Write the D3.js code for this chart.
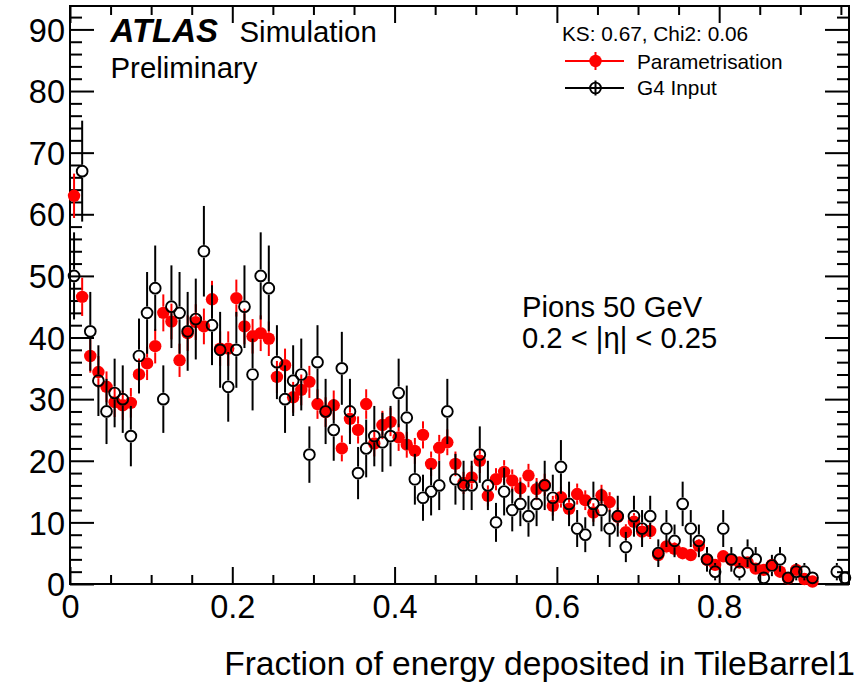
<!DOCTYPE html>
<html>
<head>
<meta charset="utf-8">
<script src="https://cdn.jsdelivr.net/npm/d3@7"></script>
<style>
  html, body { margin: 0; padding: 0; background: #fff; }
  svg text { font-family: "Liberation Sans", Arial, Helvetica, sans-serif; fill: #000; }
</style>
</head>
<body>
<svg id="chart" width="860" height="683"></svg>
<script>
// Histogram bin centres (bin width 0.01)
const binCenters = [
  0.005, 0.015, 0.025, 0.035, 0.045, 0.055, 0.065, 0.075, 0.085, 0.095,
  0.105, 0.115, 0.125, 0.135, 0.145, 0.155, 0.165, 0.175, 0.185, 0.195,
  0.205, 0.215, 0.225, 0.235, 0.245, 0.255, 0.265, 0.275, 0.285, 0.295,
  0.305, 0.315, 0.325, 0.335, 0.345, 0.355, 0.365, 0.375, 0.385, 0.395,
  0.405, 0.415, 0.425, 0.435, 0.445, 0.455, 0.465, 0.475, 0.485, 0.495,
  0.505, 0.515, 0.525, 0.535, 0.545, 0.555, 0.565, 0.575, 0.585, 0.595,
  0.605, 0.615, 0.625, 0.635, 0.645, 0.655, 0.665, 0.675, 0.685, 0.695,
  0.705, 0.715, 0.725, 0.735, 0.745, 0.755, 0.765, 0.775, 0.785, 0.795,
  0.805, 0.815, 0.825, 0.835, 0.845, 0.855, 0.865, 0.875, 0.885, 0.895,
  0.905, 0.915, 0.925, 0.935, 0.945, 0.955
];

// Parametrisation (filled red markers)
const paramValues = [
  63.0, 46.6, 37.0, 34.4, 32.0, 29.5, 29.0, 29.4, 34.0, 35.8,
  38.6, 44.0, 42.6, 36.3, 40.7, 42.5, 41.8, 46.2, 38.2, 38.2,
  46.4, 41.8, 40.2, 40.7, 39.8, 33.6, 35.5, 30.3, 31.5, 32.8,
  29.2, 27.9, 29.0, 22.0, 26.8, 25.0, 29.2, 22.8, 25.8, 26.3,
  23.8, 22.6, 21.6, 24.2, 19.5, 22.1, 23.0, 19.5, 16.4, 17.3,
  20.0, 14.3, 17.0, 18.2, 16.8, 15.5, 17.6, 15.4, 16.1, 12.7,
  14.1, 12.2, 14.6, 13.6, 11.6, 14.4, 13.3, 10.9, 8.4, 10.1,
  8.5, 8.6, 4.7, 6.1, 5.7, 5.0, 4.7, 6.2, 3.9, 3.1,
  4.5, 3.9, 3.5, 3.5, 2.5, 2.3, 3.1, 2.0, 0.9, 2.3,
  0.8, 0.4, 0, 0, 0, 0
];
const paramErrors = [
  3.6, 3.1, 2.7, 2.6, 2.5, 2.4, 2.4, 2.4, 2.6, 2.7,
  2.8, 3.0, 2.9, 2.7, 2.9, 2.9, 2.9, 3.0, 2.8, 2.8,
  3.0, 2.9, 2.8, 2.9, 2.8, 2.6, 2.7, 2.5, 2.5, 2.6,
  2.4, 2.4, 2.4, 2.1, 2.3, 2.2, 2.4, 2.1, 2.3, 2.3,
  2.2, 2.1, 2.1, 2.2, 2.0, 2.1, 2.1, 2.0, 1.8, 1.9,
  2.0, 1.7, 1.8, 1.9, 1.8, 1.8, 1.9, 1.8, 1.8, 1.6,
  1.7, 1.6, 1.7, 1.6, 1.5, 1.7, 1.6, 1.5, 1.3, 1.4,
  1.3, 1.3, 1.0, 1.1, 1.1, 1.0, 1.0, 1.1, 0.9, 0.8,
  0.9, 0.9, 0.8, 0.8, 0.7, 0.7, 0.8, 0.6, 0.4, 0.7,
  0.4, 0.3, 0, 0, 0, 0
];

// G4 Input (open black markers)
const g4Values = [
  50, 67, 41, 33, 28, 31, 30, 24, 37, 44,
  48, 30, 45, 44, 41, 43, 54, 42, 38, 32,
  38, 45, 34, 50, 48, 36, 30, 33, 34, 21,
  36, 28, 25, 35, 28, 18, 22, 24, 23, 24,
  31, 27, 17, 14, 15, 16, 28, 17, 16, 16,
  21, 16, 10, 15, 12, 13, 11, 13, 16, 14,
  19, 13, 9, 8, 13, 12, 9, 11, 6, 11,
  9, 11, 5, 9, 7, 13, 9, 7, 4, 2,
  9, 4, 2, 5, 4, 1, 3, 4, 1, 2,
  2, 1, 0, 0, 2, 1
];
const g4Errors = [
  7.07, 8.19, 6.40, 5.74, 5.29, 5.57, 5.48, 4.90, 6.08, 6.63,
  6.93, 5.48, 6.71, 6.63, 6.40, 6.56, 7.35, 6.48, 6.16, 5.66,
  6.16, 6.71, 5.83, 7.07, 6.93, 6.00, 5.48, 5.74, 5.83, 4.58,
  6.00, 5.29, 5.00, 5.92, 5.29, 4.24, 4.69, 4.90, 4.80, 4.90,
  5.57, 5.20, 4.12, 3.74, 3.87, 4.00, 5.29, 4.12, 4.00, 4.00,
  4.58, 4.00, 3.16, 3.87, 3.46, 3.61, 3.32, 3.61, 4.00, 3.74,
  4.36, 3.61, 3.00, 2.83, 3.61, 3.46, 3.00, 3.32, 2.45, 3.32,
  3.00, 3.32, 2.24, 3.00, 2.65, 3.61, 3.00, 2.65, 2.00, 1.41,
  3.00, 2.00, 1.41, 2.24, 2.00, 1.00, 1.73, 2.00, 1.00, 1.41,
  1.41, 1.00, 0, 0, 1.41, 1.00
];

const xTicksMajor = [0, 0.2, 0.4, 0.6, 0.8];
const xTicksMinor = [0.05, 0.1, 0.15, 0.25, 0.3, 0.35, 0.45, 0.5, 0.55, 0.65, 0.7, 0.75, 0.85, 0.9, 0.95];
const yTicksMajor = [0, 10, 20, 30, 40, 50, 60, 70, 80, 90];
const yTicksMinor = [2, 4, 6, 8, 12, 14, 16, 18, 22, 24, 26, 28, 32, 34, 36, 38, 42, 44, 46, 48,
                     52, 54, 56, 58, 62, 64, 66, 68, 72, 74, 76, 78, 82, 84, 86, 88, 92];
const xLabels = ["0", "0.2", "0.4", "0.6", "0.8"];
const yLabels = ["0", "10", "20", "30", "40", "50", "60", "70", "80", "90"];

const seriesNames = ["Parametrisation", "G4 Input"];
const statsText = "KS: 0.67, Chi2: 0.06";
const xTitle = "Fraction of energy deposited in TileBarrel1";
const infoLines = ["Pions 50 GeV", "0.2 < |\u03b7| < 0.25"];

// ---- layout ----
const frame = { left: 70, right: 849, top: 6, bottom: 584 };
const x = d3.scaleLinear().domain([0, 0.96]).range([frame.left, frame.right]);
const y = d3.scaleLinear().domain([0, 93.8]).range([frame.bottom, frame.top]);

const svg = d3.select("#chart");
const RED = "#ff0000";

// axes: inward ticks on all four sides
function styleAxis(g) {
  g.select(".domain").remove();
  g.selectAll(".tick line").attr("stroke", "#000").attr("stroke-width", 2);
}
const labelFont = 32.5;

// bottom
svg.append("g").attr("transform", `translate(0,${frame.bottom})`)
  .call(d3.axisBottom(x).tickValues(xTicksMajor).tickSizeInner(-17).tickSizeOuter(0)
    .tickPadding(11).tickFormat((d, i) => xLabels[i]))
  .call(styleAxis)
  .call(g => g.selectAll("text").attr("font-size", labelFont).attr("font-family", null));
svg.append("g").attr("transform", `translate(0,${frame.bottom})`)
  .call(d3.axisBottom(x).tickValues(xTicksMinor).tickSizeInner(-9).tickSizeOuter(0).tickFormat(""))
  .call(styleAxis);
// top
svg.append("g").attr("transform", `translate(0,${frame.top})`)
  .call(d3.axisTop(x).tickValues(xTicksMajor).tickSizeInner(-17).tickSizeOuter(0).tickFormat(""))
  .call(styleAxis);
svg.append("g").attr("transform", `translate(0,${frame.top})`)
  .call(d3.axisTop(x).tickValues(xTicksMinor).tickSizeInner(-9).tickSizeOuter(0).tickFormat(""))
  .call(styleAxis);
// left
svg.append("g").attr("transform", `translate(${frame.left},0)`)
  .call(d3.axisLeft(y).tickValues(yTicksMajor).tickSizeInner(-24).tickSizeOuter(0)
    .tickPadding(5).tickFormat((d, i) => yLabels[i]))
  .call(styleAxis)
  .call(g => g.selectAll("text").attr("font-size", labelFont).attr("font-family", null).attr("dy", "0.36em"));
svg.append("g").attr("transform", `translate(${frame.left},0)`)
  .call(d3.axisLeft(y).tickValues(yTicksMinor).tickSizeInner(-12).tickSizeOuter(0).tickFormat(""))
  .call(styleAxis);
// right
svg.append("g").attr("transform", `translate(${frame.right},0)`)
  .call(d3.axisRight(y).tickValues(yTicksMajor).tickSizeInner(-24).tickSizeOuter(0).tickFormat(""))
  .call(styleAxis);
svg.append("g").attr("transform", `translate(${frame.right},0)`)
  .call(d3.axisRight(y).tickValues(yTicksMinor).tickSizeInner(-12).tickSizeOuter(0).tickFormat(""))
  .call(styleAxis);

// frame
svg.append("rect")
  .attr("x", frame.left).attr("y", frame.top)
  .attr("width", frame.right - frame.left).attr("height", frame.bottom - frame.top)
  .attr("fill", "none").attr("stroke", "#000").attr("stroke-width", 2);

// ---- data points ----
function drawSeries(values, errors, opts) {
  const pts = binCenters.map((c, i) => ({ c, v: values[i], e: errors[i] })).filter(d => d.v > 0);
  const g = svg.append("g");
  const gap = opts.r + (opts.hollow ? 1 : 0);
  // upper error segment
  g.selectAll("line.up").data(pts.filter(d => y(d.v) - y(d.v + d.e) > gap)).join("line")
    .attr("x1", d => x(d.c)).attr("x2", d => x(d.c))
    .attr("y1", d => y(d.v + d.e)).attr("y2", d => y(d.v) - gap)
    .attr("stroke", opts.color).attr("stroke-width", 2);
  // lower error segment
  g.selectAll("line.dn").data(pts.filter(d => y(Math.max(0, d.v - d.e)) - y(d.v) > gap)).join("line")
    .attr("x1", d => x(d.c)).attr("x2", d => x(d.c))
    .attr("y1", d => y(d.v) + gap).attr("y2", d => y(Math.max(0, d.v - d.e)))
    .attr("stroke", opts.color).attr("stroke-width", 2);
  g.selectAll("circle").data(pts).join("circle")
    .attr("cx", d => x(d.c)).attr("cy", d => y(d.v)).attr("r", opts.r)
    .attr("fill", opts.hollow ? "none" : opts.color)
    .attr("stroke", opts.hollow ? opts.color : "none")
    .attr("stroke-width", opts.hollow ? 1.9 : 0);
}
drawSeries(paramValues, paramErrors, { color: RED, r: 6.2, hollow: false });
drawSeries(g4Values, g4Errors, { color: "#000", r: 5.4, hollow: true });

// ---- labels ----
svg.append("text").attr("x", 110.5).attr("y", 42.3)
  .attr("font-size", 33).attr("font-weight", "bold").attr("font-style", "italic").text("ATLAS");
svg.append("text").attr("x", 239.5).attr("y", 42.3).attr("font-size", 29.4).text("Simulation");
svg.append("text").attr("x", 110.5).attr("y", 78.3).attr("font-size", 29.4).text("Preliminary");

svg.append("text").attr("x", 562).attr("y", 41).attr("font-size", 20.8).text(statsText);

// legend
const legY = [61, 88];
// Parametrisation entry
svg.append("line").attr("x1", 565).attr("x2", 624).attr("y1", legY[0]).attr("y2", legY[0])
  .attr("stroke", RED).attr("stroke-width", 2);
svg.append("line").attr("x1", 595.5).attr("x2", 595.5).attr("y1", legY[0] - 9).attr("y2", legY[0] + 9)
  .attr("stroke", RED).attr("stroke-width", 2);
svg.append("circle").attr("cx", 595.5).attr("cy", legY[0]).attr("r", 6.2).attr("fill", RED);
// G4 entry
svg.append("line").attr("x1", 565).attr("x2", 624).attr("y1", legY[1]).attr("y2", legY[1])
  .attr("stroke", "#000").attr("stroke-width", 2);
svg.append("line").attr("x1", 595.5).attr("x2", 595.5).attr("y1", legY[1] - 7.5).attr("y2", legY[1] + 7.5)
  .attr("stroke", "#000").attr("stroke-width", 2);
svg.append("circle").attr("cx", 595.5).attr("cy", legY[1]).attr("r", 5.4)
  .attr("fill", "none").attr("stroke", "#000").attr("stroke-width", 1.9);
svg.append("text").attr("x", 637).attr("y", 69).attr("font-size", 20.8).text(seriesNames[0]);
svg.append("text").attr("x", 637).attr("y", 95).attr("font-size", 20.8).text(seriesNames[1]);

// selection info
svg.append("text").attr("x", 522).attr("y", 316.5).attr("font-size", 29.2).text(infoLines[0]);
svg.append("text").attr("x", 522).attr("y", 347.5).attr("font-size", 29.2).text(infoLines[1]);

// x-axis title
svg.append("text").attr("x", 855).attr("y", 675).attr("text-anchor", "end")
  .attr("font-size", 33.6).text(xTitle);
</script>
</body>
</html>
